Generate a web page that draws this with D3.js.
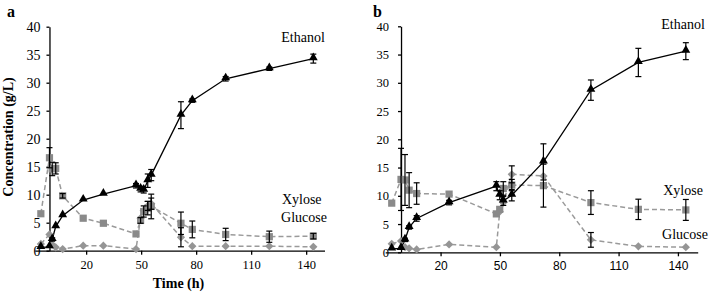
<!DOCTYPE html>
<html>
<head>
<meta charset="utf-8">
<script src="https://cdn.jsdelivr.net/npm/d3@7"></script>
<style>
  body { margin: 0; background: #fff; }
  svg { display: block; }
</style>
</head>
<body>
<svg id="drawing_region"></svg>
<script>
// ---- panel a data ----
const timeA = [-4.7, 0, 1.5, 3.4, 7.2, 18.4, 29.4, 47.2, 49.7, 51.4, 53.6, 55.5, 71.7, 77.9, 96.1, 119.9, 143.9];
const ethanolA = [0.6, 0.7, 2.0, 4.3, 6.25, 9.05, 10.1, 11.6, 11.0, 10.8, 12.5, 13.5, 24.2, 26.8, 30.7, 32.5, 34.3];
const ethanolErrA = [0, 0, 0.3, 0, 0, 0, 0, 0.4, 0.5, 0.5, 1.2, 1.0, 2.4, 0.3, 0.4, 0.3, 0.8];
const xyloseA = [6.6, 16.6, 14.6, 14.7, 9.8, 5.8, 4.9, 3.0, 5.4, 7.0, 7.6, 7.9, 4.9, 3.8, 2.9, 2.5, 2.6];
const xyloseErrA = [0, 1.8, 1.2, 1.0, 0.4, 0, 0, 0, 0.5, 1.0, 1.2, 2.2, 2.0, 1.5, 1.1, 1.0, 0.5];
const glucoseA = [1.2, 2.9, 1.1, 0.6, 0.3, 0.9, 0.9, 0.3, 5.8, 7.2, 8.0, 8.4, 2.4, 0.8, 0.8, 0.8, 0.7];
const glucoseErrA = [0, 0, 0, 0, 0, 0, 0, 0, 0, 0, 0.8, 1.0, 1.7, 0, 0, 0, 0];

// ---- panel b data ----
const timeB = [-4.7, 0, 2, 4.1, 7.9, 24.3, 48.2, 49.9, 51.7, 56, 72, 96, 120, 144];
const ethanolB = [0.6, 0.7, 2.2, 4.4, 6.0, 8.8, 11.7, 10.1, 9.1, 10.1, 16.0, 28.7, 33.6, 35.6];
const ethanolErrB = [0, 0, 0.3, 0.3, 0.5, 0.4, 0.8, 0.8, 0.8, 1.0, 3.2, 1.8, 2.5, 1.5];
const xyloseB = [8.7, 12.9, 12.8, 11.0, 10.4, 10.3, 6.8, 7.6, 11.3, 11.9, 11.8, 8.8, 7.6, 7.5];
const xyloseErrB = [0, 5.5, 4.5, 3.1, 1.9, 0, 0, 0, 1.2, 1.0, 3.8, 2.1, 1.8, 1.85];
const glucoseB = [1.5, 2.0, 0.9, 0.7, 0.5, 1.4, 0.9, 7.2, 8.8, 13.8, 13.5, 2.2, 1.05, 0.9];
const glucoseErrB = [0, 0, 0, 0, 0, 0, 0, 0, 0, 1.5, 0, 1.3, 0, 0];

const xTicks = [20, 50, 80, 110, 140];
const yTicks = [0, 5, 10, 15, 20, 25, 30, 35, 40];
const seriesNames = ['Ethanol', 'Xylose', 'Glucose'];

const SERIF = "'Liberation Serif', 'Times New Roman', serif";
const SANS = "'Liberation Sans', Arial, sans-serif";

const svg = d3.select('#drawing_region')
    .attr('width', 710)
    .attr('height', 293);

class FermentChart {

    constructor( config, data ) {
        this.config = config;
        this.data = data;
        this.init();
    }

    init() {
        let self = this;
        let c = self.config;

        self.chart = svg.append('g');

        self.xscale = d3.scaleLinear()
            .domain([-8, 150])
            .range([c.left, c.right]);

        self.yscale = d3.scaleLinear()
            .domain([0, 40])
            .range([c.bottom, c.top]);

        self.xaxis = d3.axisBottom( self.xscale )
            .tickValues(xTicks)
            .tickSize(4)
            .tickSizeOuter(0)
            .tickPadding(5);

        self.yaxis = d3.axisLeft( self.yscale )
            .tickValues(yTicks)
            .tickSize(3)
            .tickSizeOuter(0)
            .tickPadding(c.yPad);
    }

    render() {
        let self = this;
        let c = self.config;
        let d = self.data;

        // axes
        let xg = self.chart.append('g')
            .attr('transform', `translate(0, ${self.yscale(0)})`)
            .call( self.xaxis )
            .attr('font-family', null)
            .attr('font-size', null);
        xg.selectAll('text')
            .style('font-family', c.xFont)
            .style('font-size', c.xFontSize)
            .attr('fill', '#000');

        let yg = self.chart.append('g')
            .attr('transform', `translate(${self.xscale(0)}, 0)`)
            .call( self.yaxis )
            .attr('font-family', null)
            .attr('font-size', null);
        yg.selectAll('text')
            .style('font-family', SERIF)
            .style('font-size', c.yFontSize)
            .attr('fill', '#000');

        self.chart.selectAll('.domain, .tick line')
            .attr('stroke', '#000')
            .attr('stroke-width', 1.3);

        const rows = (vals, errs) => d.time.map((t, i) => ({ t: t, v: vals[i], e: errs[i] }));
        const eth = rows(d.ethanol, d.ethanolErr);
        const xyl = rows(d.xylose, d.xyloseErr);
        const glu = rows(d.glucose, d.glucoseErr);

        const line = d3.line()
            .x(p => self.xscale(p.t))
            .y(p => self.yscale(p.v));

        // dashed sugar lines
        [glu, xyl].forEach(s => {
            self.chart.append('path')
                .datum(s)
                .attr('d', line)
                .attr('fill', 'none')
                .attr('stroke', '#9a9a9a')
                .attr('stroke-width', 1.5)
                .attr('stroke-dasharray', '5,3');
        });

        self.chart.append('path')
            .datum(eth)
            .attr('d', line)
            .attr('fill', 'none')
            .attr('stroke', '#000')
            .attr('stroke-width', 1.3);

        // markers
        self.chart.selectAll('.glu')
            .data(glu)
            .enter()
            .append('path')
            .attr('d', d3.symbol(d3.symbolSquare, 34))
            .attr('transform', p => `translate(${self.xscale(p.t)}, ${self.yscale(p.v)}) rotate(45)`)
            .attr('fill', '#959595');

        self.chart.selectAll('.xyl')
            .data(xyl)
            .enter()
            .append('path')
            .attr('d', d3.symbol(d3.symbolSquare, 52))
            .attr('transform', p => `translate(${self.xscale(p.t)}, ${self.yscale(p.v)})`)
            .attr('fill', '#8a8a8a');

        self.chart.selectAll('.eth')
            .data(eth)
            .enter()
            .append('path')
            .attr('d', d3.symbol(d3.symbolTriangle, 34))
            .attr('transform', p => `translate(${self.xscale(p.t)}, ${self.yscale(p.v) - 1})`)
            .attr('fill', '#000');

        // error bars
        const bars = eth.concat(xyl, glu).filter(p => p.e > 0);
        let eb = self.chart.selectAll('.err')
            .data(bars)
            .enter()
            .append('g')
            .attr('stroke', '#000')
            .attr('stroke-width', 1.2);
        eb.append('line')
            .attr('x1', p => self.xscale(p.t))
            .attr('x2', p => self.xscale(p.t))
            .attr('y1', p => self.yscale(p.v + p.e))
            .attr('y2', p => self.yscale(p.v - p.e));
        [1, -1].forEach(sgn => {
            eb.append('line')
                .attr('x1', p => self.xscale(p.t) - 3)
                .attr('x2', p => self.xscale(p.t) + 3)
                .attr('y1', p => self.yscale(p.v + sgn * p.e))
                .attr('y2', p => self.yscale(p.v + sgn * p.e));
        });

        // series names
        seriesNames.forEach((name, i) => {
            self.chart.append('text')
                .attr('x', self.xscale(c.labelPos[i][0]))
                .attr('y', self.yscale(c.labelPos[i][1]))
                .attr('text-anchor', 'middle')
                .style('font-family', SERIF)
                .style('font-size', '14px')
                .text(name);
        });

        // panel letter
        svg.append('text')
            .attr('x', c.letterX)
            .attr('y', 17)
            .style('font-family', SERIF)
            .style('font-weight', 'bold')
            .style('font-size', '16px')
            .text(c.letter);
    }
}

const chartA = new FermentChart({
    left: 34.8, right: 324.5, top: 26.7, bottom: 250.7,
    yPad: 6, xFont: SERIF, xFontSize: '12.5px', yFontSize: '14px',
    labelPos: [[138.3, 37.3], [137.6, 8.3], [138.8, 5.1]],
    letter: 'a', letterX: 7
}, {
    time: timeA,
    ethanol: ethanolA, ethanolErr: ethanolErrA,
    xylose: xyloseA, xyloseErr: xyloseErrA,
    glucose: glucoseA, glucoseErr: glucoseErrA
});
chartA.render();

const chartB = new FermentChart({
    left: 385.2, right: 697.7, top: 26.3, bottom: 252.3,
    yPad: 9, xFont: SANS, xFontSize: '12px', yFontSize: '12.5px',
    labelPos: [[142.6, 39.5], [142.6, 10.1], [143.6, 2.3]],
    letter: 'b', letterX: 373
}, {
    time: timeB,
    ethanol: ethanolB, ethanolErr: ethanolErrB,
    xylose: xyloseB, xyloseErr: xyloseErrB,
    glucose: glucoseB, glucoseErr: glucoseErrB
});
chartB.render();

// axis titles
svg.append('text')
    .attr('transform', 'translate(13, 137) rotate(-90)')
    .attr('text-anchor', 'middle')
    .style('font-family', SERIF)
    .style('font-weight', 'bold')
    .style('font-size', '14px')
    .text('Concentration (g/L)');

svg.append('text')
    .attr('x', 178.5)
    .attr('y', 288)
    .attr('text-anchor', 'middle')
    .style('font-family', SERIF)
    .style('font-weight', 'bold')
    .style('font-size', '14px')
    .text('Time (h)');
</script>
</body>
</html>
